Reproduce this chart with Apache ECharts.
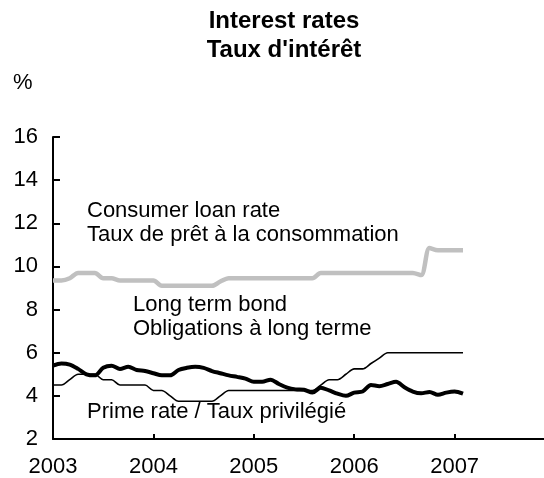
<!DOCTYPE html>
<html>
<head>
<meta charset="utf-8">
<script src="https://cdn.jsdelivr.net/npm/echarts@6/dist/echarts.min.js"></script>
<style>
  html, body { margin: 0; padding: 0; background: #ffffff; }
  #chart { width: 544px; height: 478px; }
</style>
</head>
<body>
<div id="chart"></div>
<script>
// Monthly observations, January 2003 to February 2007 (percent)
const startYear = 2003;

const consumerLoanRate = [
  9.35, 9.35, 9.45, 9.7, 9.7, 9.7, 9.45, 9.45, 9.35, 9.35, 9.35, 9.35,
  9.35, 9.1, 9.1, 9.1, 9.1, 9.1, 9.1, 9.1, 9.3, 9.45, 9.45, 9.45,
  9.45, 9.45, 9.45, 9.45, 9.45, 9.45, 9.45, 9.45, 9.7, 9.7, 9.7, 9.7,
  9.7, 9.7, 9.7, 9.7, 9.7, 9.7, 9.7, 9.7, 9.6, 10.85, 10.75, 10.75,
  10.75, 10.75
];

const primeRate = [
  4.5, 4.5, 4.75, 5.0, 5.0, 5.0, 4.75, 4.75, 4.5, 4.5, 4.5, 4.5,
  4.25, 4.25, 4.0, 3.75, 3.75, 3.75, 3.75, 3.75, 4.0, 4.25, 4.25, 4.25,
  4.25, 4.25, 4.25, 4.25, 4.25, 4.25, 4.25, 4.25, 4.5, 4.75, 4.75, 5.0,
  5.25, 5.25, 5.5, 5.75, 6.0, 6.0, 6.0, 6.0, 6.0, 6.0, 6.0, 6.0,
  6.0, 6.0
];

const longTermBond = [
  5.4, 5.5, 5.45, 5.25, 5.0, 4.95, 5.3, 5.4, 5.25, 5.35, 5.2, 5.15,
  5.05, 4.95, 4.95, 5.2, 5.3, 5.35, 5.3, 5.15, 5.05, 4.95, 4.88, 4.8,
  4.65, 4.65, 4.75, 4.55, 4.38, 4.3, 4.28, 4.15, 4.38, 4.25, 4.1, 4.0,
  4.15, 4.2, 4.5, 4.45, 4.55, 4.65, 4.4, 4.2, 4.12, 4.18, 4.05, 4.15,
  4.2, 4.1
];

const yearTicks = [2003, 2004, 2005, 2006, 2007];
const valueTicks = [2, 4, 6, 8, 10, 12, 14, 16];

// Month index -> decimal year on the time axis
function toPoints(values) {
  return values.map((v, i) => [startYear + i / 12, v]);
}

const FONT = '"Liberation Sans", Arial, Helvetica, sans-serif';
const chart = echarts.init(document.getElementById('chart'), null, { renderer: 'canvas' });

function note(text, x, y, font) {
  return {
    type: 'text', x: x, y: y,
    style: { text: text, fill: '#000', font: font || ('22px ' + FONT), textVerticalAlign: 'middle' }
  };
}

chart.setOption({
  animation: false,
  backgroundColor: '#ffffff',
  grid: { left: 53, right: 0, top: 137, bottom: 38, containLabel: false },
  xAxis: {
    type: 'value',
    min: yearTicks[0],
    max: 2007.89,
    interval: 1,
    axisLine: { lineStyle: { color: '#000', width: 2 } },
    axisTick: { inside: true, length: 5, lineStyle: { color: '#000', width: 2 } },
    axisLabel: {
      color: '#000', fontFamily: FONT, fontSize: 22, margin: 17,
      showMaxLabel: false,
      formatter: v => (yearTicks.indexOf(Math.round(v)) >= 0 && Math.abs(v - Math.round(v)) < 1e-6) ? String(Math.round(v)) : ''
    },
    splitLine: { show: false }
  },
  yAxis: {
    type: 'value',
    min: valueTicks[0],
    max: valueTicks[valueTicks.length - 1],
    interval: 2,
    axisLine: { show: true, lineStyle: { color: '#000', width: 2 } },
    axisTick: { show: true, inside: true, length: 7, lineStyle: { color: '#000', width: 2 } },
    axisLabel: { color: '#000', fontFamily: FONT, fontSize: 22, margin: 15 },
    splitLine: { show: false }
  },
  series: [
    {
      name: 'Consumer loan rate',
      type: 'line',
      data: toPoints(consumerLoanRate),
      showSymbol: false,
      smooth: 0.3,
      lineStyle: { color: '#c0c0c0', width: 4.5 },
      z: 2
    },
    {
      name: 'Prime rate',
      type: 'line',
      data: toPoints(primeRate),
      showSymbol: false,
      smooth: 0.3,
      lineStyle: { color: '#000', width: 1.6 },
      z: 3
    },
    {
      name: 'Long term bond',
      type: 'line',
      data: toPoints(longTermBond),
      showSymbol: false,
      smooth: 0.3,
      lineStyle: { color: '#000', width: 4 },
      z: 4
    }
  ],
  graphic: [
    {
      type: 'text', x: 284, y: 21,
      style: { text: 'Interest rates', fill: '#000', font: 'bold 24px ' + FONT, textAlign: 'center', textVerticalAlign: 'middle' }
    },
    {
      type: 'text', x: 284, y: 50,
      style: { text: "Taux d'intérêt", fill: '#000', font: 'bold 24px ' + FONT, textAlign: 'center', textVerticalAlign: 'middle' }
    },
    note('%', 13, 83),
    note('Consumer loan rate', 87, 211),
    note('Taux de prêt à la consommation', 87, 235),
    note('Long term bond', 133, 305),
    note('Obligations à long terme', 133, 329),
    note('Prime rate / Taux privilégié', 87, 412)
  ]
});
</script>
</body>
</html>
